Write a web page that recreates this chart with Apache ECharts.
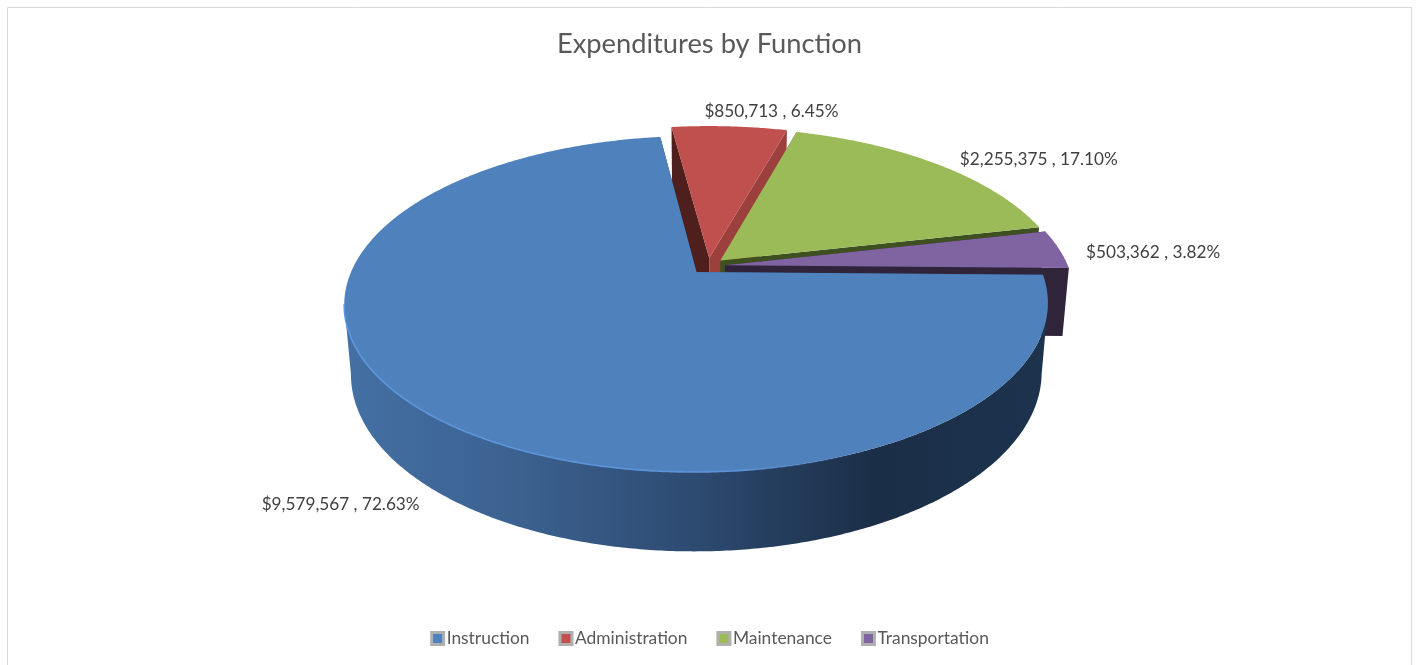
<!DOCTYPE html>
<html>
<head>
<meta charset="utf-8">
<title>Expenditures by Function</title>
<script src="https://cdn.jsdelivr.net/npm/echarts@6/dist/echarts.min.js"></script>
<style>
    html, body { margin: 0; padding: 0; background: #fff; }
    #main { width: 1419px; height: 665px; }
</style>
</head>
<body>
<div id="main"></div>
<script>
var categories = ['Instruction', 'Administration', 'Maintenance', 'Transportation'];
var amounts = [9579567, 850713, 2255375, 503362];

// first slice starts just below due east, then runs clockwise
var startAngle = 1;
var explode = 0.05;

// perspective of the pie floor
var view = { cx: 708, cy: 266, rx: 343, ry: 159.7, persp: 0.1887, depth: 69, shrink: 0.018 };

var topColors = ['#4f81bd', '#c0504d', '#9bbb59', '#8064a2'];
var startWallColors = ['#2c4a6e', '#4f1f1d', '#9c403e', '#2f2439'];
var endWallColors = ['#2c4a6e', '#9c403e', '#3f5020', '#2f2439'];
var rimStops = [
    [{ offset: 0, color: '#4470a4' }, { offset: 0.25, color: '#3b618f' }, { offset: 0.5, color: '#2d4a70' }, { offset: 0.75, color: '#1b2e47' }, { offset: 1, color: '#1c334e' }],
    null, null, null
];
var labelShift = [[-86, 92], [42, -15], [101, -5], [94, 3]];

var total = amounts.reduce(function (a, b) { return a + b; }, 0);

function rad(deg) { return deg * Math.PI / 180; }

function project(u, v, low) {
    var s = 1 / (1 - view.persp * v + (low ? view.shrink : 0));
    return [
        view.cx + view.rx * u * s,
        view.cy + (view.ry * v + (low ? view.depth : 0)) * s
    ];
}

function sliceRange(idx) {
    var before = 0;
    for (var i = 0; i < idx; i++) before += amounts[i];
    return [startAngle + before / total * 360, startAngle + (before + amounts[idx]) / total * 360];
}

function money(n) {
    return '$' + n.toLocaleString('en-US') + ' , ' + (n / total * 100).toFixed(2) + '%';
}

function renderSlice(idx) {
    return function () {
        var range = sliceRange(idx);
        var mid = rad((range[0] + range[1]) / 2);
        var du = Math.cos(mid) * explode, dv = Math.sin(mid) * explode;
        var rimAt = function (deg, low) {
            return project(Math.cos(rad(deg)) + du, Math.sin(rad(deg)) + dv, low);
        };
        var hub = project(du, dv, false), hubLow = project(du, dv, true);

        var rim = [], front = [];
        for (var a = range[0]; a < range[1]; a += 0.5) {
            rim.push(rimAt(a, false));
            if (Math.sin(rad(a)) > view.persp) front.push(a);
        }
        rim.push(rimAt(range[1], false));

        var children = [];
        function wall(deg, color) {
            children.push({
                type: 'polygon',
                shape: { points: [hub, rimAt(deg, false), rimAt(deg, true), hubLow] },
                style: { fill: color }
            });
        }
        wall(range[0], startWallColors[idx]);
        wall(range[1], endWallColors[idx]);

        if (front.length > 1) {
            var upper = front.map(function (d) { return rimAt(d, false); });
            var lower = front.map(function (d) { return rimAt(d, true); }).reverse();
            var stops = rimStops[idx] || [{ offset: 0, color: endWallColors[idx] }, { offset: 1, color: endWallColors[idx] }];
            children.push({
                type: 'polygon',
                shape: { points: upper.concat(lower) },
                style: {
                    fill: { type: 'linear', x: view.cx - view.rx * 1.06, y: 0, x2: view.cx + view.rx, y2: 0, global: true, colorStops: stops }
                }
            });
        }

        children.push({
            type: 'polygon',
            shape: { points: [hub].concat(rim) },
            style: { fill: topColors[idx] }
        });

        // light edge along the front of the top face, fades out to the right
        if (front.length > 1) {
            children.push({
                type: 'polyline',
                shape: { points: front.map(function (d) { return rimAt(d, false); }) },
                style: {
                    fill: null,
                    lineWidth: 1.6,
                    stroke: {
                        type: 'linear', x: view.cx - view.rx, y: 0, x2: view.cx + view.rx, y2: 0, global: true,
                        colorStops: [
                            { offset: 0, color: '#5c96dc' },
                            { offset: 0.55, color: '#5c93d8' },
                            { offset: 0.72, color: 'rgba(79,129,189,0)' },
                            { offset: 1, color: 'rgba(79,129,189,0)' }
                        ]
                    }
                }
            });
        }

        var anchor = rimAt((range[0] + range[1]) / 2, false);
        children.push({
            type: 'text',
            z2: 100,
            style: {
                x: anchor[0] + labelShift[idx][0],
                y: anchor[1] + labelShift[idx][1],
                text: money(amounts[idx]),
                fill: '#404040',
                font: '17.2px Lato',
                align: 'center',
                verticalAlign: 'middle'
            }
        });
        return { type: 'group', children: children };
    };
}

// painter's order: slices further back first
var order = categories.map(function (c, i) { return i; }).sort(function (a, b) {
    var ra = sliceRange(a), rb = sliceRange(b);
    return Math.sin(rad((ra[0] + ra[1]) / 2)) - Math.sin(rad((rb[0] + rb[1]) / 2));
});

var chart = echarts.init(document.getElementById('main'), null, { renderer: 'canvas' });
chart.setOption({
    backgroundColor: '#fff',
    animation: false,
    title: {
        text: 'Expenditures by Function',
        left: 'center',
        top: 26,
        textStyle: { color: '#595959', fontFamily: 'Lato', fontWeight: 'normal', fontSize: 27.3 }
    },
    legend: {
        bottom: 13,
        left: 'center',
        itemWidth: 12,
        itemHeight: 12,
        itemGap: 29,
        selectedMode: false,
        textStyle: { color: '#595959', fontFamily: 'Lato', fontSize: 17.4, padding: [0, 0, 0, -2] },
        data: categories.map(function (name, i) {
            return { name: name, icon: 'rect', itemStyle: { color: topColors[i], borderColor: '#b0b0b0', borderWidth: 3 } };
        })
    },
    graphic: [{
        type: 'rect',
        silent: true,
        z: -1,
        shape: { x: 7.5, y: 7.5, width: 1404, height: 680 },
        style: { fill: null, stroke: '#d9d9d9', lineWidth: 1 }
    }],
    series: order.map(function (idx) {
        return {
            type: 'custom',
            name: categories[idx],
            coordinateSystem: 'none',
            silent: true,
            itemStyle: { color: topColors[idx] },
            data: [[amounts[idx]]],
            renderItem: renderSlice(idx)
        };
    })
});
</script>
</body>
</html>
